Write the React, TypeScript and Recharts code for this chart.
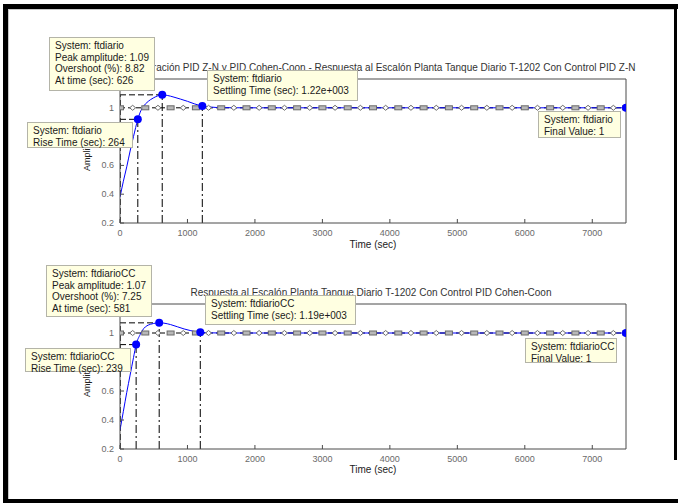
import React from 'react';
import { ComposedChart, Line, Scatter, XAxis, YAxis } from 'recharts';

const xTicks = [0, 1000, 2000, 3000, 4000, 5000, 6000, 7000];
const yTicks = [0.2, 0.4, 0.6, 0.8, 1, 1.2];
// tick labels that the reference shows (0.8 and 1.2 sit under the data tips)
const yTickLabels = ['0.2', '0.4', '0.6', '', '1', ''];

const znTime = [0, 50, 100, 150, 200, 264, 300, 350, 400, 450, 500, 560, 626, 700, 800, 900, 1000, 1100, 1220, 1350, 1500, 1800, 2500, 3500, 4500, 5500, 6500, 7500];
const znAmp = [0.38, 0.49, 0.59, 0.7, 0.8, 0.92, 0.97, 1.012, 1.037, 1.056, 1.07, 1.083, 1.09, 1.086, 1.074, 1.06, 1.045, 1.028, 1.012, 1.005, 1.001, 1, 1, 1, 1, 1, 1, 1];

const ccTime = [0, 50, 100, 150, 200, 239, 300, 350, 400, 450, 500, 581, 650, 750, 850, 950, 1050, 1190, 1350, 1500, 1800, 2500, 3500, 4500, 5500, 6500, 7500];
const ccAmp = [0.33, 0.46, 0.59, 0.71, 0.83, 0.92, 0.99, 1.03, 1.05, 1.06, 1.066, 1.07, 1.068, 1.058, 1.043, 1.028, 1.016, 1.005, 1.001, 1, 1, 1, 1, 1, 1, 1, 1];

// [riseTime, riseAmp, peakTime, peakAmp, overshoot, settlingTime, settlingAmp, finalValue]
const znChars = [264, 0.92, 626, 1.09, 8.82, 1220, 1.012, 1];
const ccChars = [239, 0.92, 581, 1.07, 7.25, 1190, 1.005, 1];

const markerTimes = [0, 187.5, 375, 562.5, 750, 937.5, 1125, 1312.5, 1500, 1687.5, 1875, 2062.5, 2250, 2437.5, 2625, 2812.5, 3000, 3187.5, 3375, 3562.5, 3750, 3937.5, 4125, 4312.5, 4500, 4687.5, 4875, 5062.5, 5250, 5437.5, 5625, 5812.5, 6000, 6187.5, 6375, 6562.5, 6750, 6937.5, 7125, 7312.5, 7500];

const xMax = 7500;
const yMin = 0.2;
const yMax = 1.2;

const FONT = '"Liberation Sans", Arial, Helvetica, sans-serif';

const fmtExp = (n: number) => {
  const s = n.toExponential(2);
  const [m, e] = s.split('e');
  const sign = e[0] === '-' ? '-' : '+';
  const d = e.replace(/[+-]/, '').padStart(3, '0');
  return `${m}e${sign}${d}`;
};

const XTick = (props: any) => {
  const { x, y, payload } = props;
  return (
    <text x={x} y={y + 4 + 13} textAnchor="middle" fontSize={9} fill="#6a6a6a" fontFamily={FONT}>
      {payload.value}
    </text>
  );
};

const YTick = (props: any) => {
  const { x, y, payload } = props;
  const idx = yTicks.indexOf(payload.value);
  const label = idx >= 0 ? yTickLabels[idx] : String(payload.value);
  if (!label) return <g />;
  return (
    <text x={x - 4 - 6} y={y + 3} textAnchor="end" fontSize={9} fill="#6a6a6a" fontFamily={FONT}>
      {label}
    </text>
  );
};

const MarkerShape = (props: any) => {
  const { cx, cy, payload } = props;
  if (payload.k === 0) {
    return <rect x={cx - 3.5} y={cy - 2} width={7} height={4} fill="#b8b8b8" stroke="#6a6a6a" strokeWidth={1} />;
  }
  return (
    <path d={`M${cx - 3},${cy} L${cx},${cy - 2.5} L${cx + 3},${cy} L${cx},${cy + 2.5} Z`} fill="#ffffff" stroke="#6a6a6a" strokeWidth={1} />
  );
};

const DotShape = (props: any) => <circle cx={props.cx} cy={props.cy} r={4} fill="#0000ff" />;

type Tip = { left: number; top: number; width: number; height: number; lines: string[] };

const TipBox = ({ t }: { t: Tip }) => (
  <div
    style={{
      position: 'absolute',
      left: t.left,
      top: t.top,
      width: t.width,
      height: t.height,
      boxSizing: 'border-box',
      background: '#ffffe1',
      border: '1px solid #b4b4a8',
      fontFamily: FONT,
      fontSize: 10,
      lineHeight: '11.5px',
      color: '#1a1a1a',
      padding: '2px 0 0 5px',
      whiteSpace: 'nowrap',
    }}
  >
    {t.lines.map((l, i) => (
      <div key={i}>{l}</div>
    ))}
  </div>
);

const common = {
  xAxisId: 'b',
  yAxisId: 'l',
  dataKey: 'y',
  dot: false,
  isAnimationActive: false,
  legendType: 'none' as const,
};

function Panel(props: {
  top: number;
  height: number;
  mTop: number;
  mBottom: number;
  time: number[];
  amp: number[];
  c: number[];
}) {
  const { top, height, mTop, mBottom, time, amp, c } = props;
  const [rT, rA, pT, pA, , sT, sA, fV] = c;
  const curve = time.map((t, i) => ({ x: t, y: amp[i] }));
  const finalLine = [{ x: 0, y: fV }, { x: xMax, y: fV }];
  const markers = markerTimes.map((t, i) => ({ x: t, y: fV, k: i % 2 }));
  const dots = [
    { x: rT, y: rA },
    { x: pT, y: pA },
    { x: sT, y: sA },
    { x: xMax, y: fV },
  ];
  const vRise = [{ x: rT, y: yMin }, { x: rT, y: rA }];
  const vPeak = [{ x: pT, y: yMin }, { x: pT, y: pA }];
  const vSettle = [{ x: sT, y: yMin }, { x: sT, y: sA }];
  const vZero = [{ x: 0, y: yMin }, { x: 0, y: pA }];
  const hPeak = [{ x: 0, y: pA }, { x: pT, y: pA }];
  const hRise = [{ x: 0, y: rA }, { x: rT, y: rA }];

  return (
    <div style={{ position: 'absolute', left: 0, top }}>
      <ComposedChart width={678} height={height} margin={{ top: mTop, right: 51, bottom: mBottom, left: 119 }}>
        <XAxis
          xAxisId="b"
          dataKey="x"
          type="number"
          domain={[0, xMax]}
          ticks={xTicks}
          allowDataOverflow
          height={1}
          tickSize={-4}
          tickMargin={0}
          tick={<XTick />}
          stroke="#4a4a4a"
          interval={0}
        />
        <XAxis
          xAxisId="t"
          orientation="top"
          type="number"
          domain={[0, xMax]}
          ticks={xTicks}
          allowDataOverflow
          height={1}
          tickSize={-4}
          tick={false}
          stroke="#4a4a4a"
          interval={0}
        />
        <YAxis
          yAxisId="l"
          type="number"
          domain={[yMin, yMax]}
          ticks={yTicks}
          allowDataOverflow
          width={1}
          tickSize={-4}
          tickMargin={0}
          tick={<YTick />}
          stroke="#4a4a4a"
          interval={0}
        />
        <YAxis
          yAxisId="r"
          orientation="right"
          type="number"
          domain={[yMin, yMax]}
          ticks={yTicks}
          allowDataOverflow
          width={1}
          tickSize={-4}
          tick={false}
          stroke="#4a4a4a"
          interval={0}
        />
        <Line {...common} data={vZero} stroke="#000" strokeWidth={1.5} strokeDasharray="6 3" />
        <Line {...common} data={hPeak} stroke="#000" strokeWidth={1} strokeDasharray="6 3" />
        <Line {...common} data={hRise} stroke="#000" strokeWidth={1} strokeDasharray="6 3" />
        <Line {...common} data={vRise} stroke="#000" strokeWidth={1} strokeDasharray="8 3 2 3" />
        <Line {...common} data={vPeak} stroke="#000" strokeWidth={1} strokeDasharray="8 3 2 3" />
        <Line {...common} data={vSettle} stroke="#000" strokeWidth={1} strokeDasharray="8 3 2 3" />
        <Line {...common} data={finalLine} stroke="#000" strokeWidth={1} strokeDasharray="5 3" />
        <Line {...common} data={curve} type="monotone" stroke="#0000ff" strokeWidth={1} />
        <Scatter xAxisId="b" yAxisId="l" data={markers} dataKey="y" shape={<MarkerShape />} isAnimationActive={false} />
        <Scatter xAxisId="b" yAxisId="l" data={dots} dataKey="y" shape={<DotShape />} isAnimationActive={false} />
      </ComposedChart>
    </div>
  );
}

const textStyle = (extra: React.CSSProperties): React.CSSProperties => ({
  position: 'absolute',
  fontFamily: FONT,
  whiteSpace: 'nowrap',
  lineHeight: '12px',
  ...extra,
});

export default function App() {
  const zn = znChars;
  const cc = ccChars;
  const topTips: Tip[] = [
    { left: 49, top: 37, width: 106, height: 54, lines: ['System: ftdiario', `Peak amplitude: ${zn[3]}`, `Overshoot (%): ${zn[4]}`, `At time (sec): ${zn[2]}`] },
    { left: 207, top: 70, width: 151, height: 31, lines: ['System: ftdiario', `Settling Time (sec): ${fmtExp(zn[5])}`] },
    { left: 27, top: 122, width: 106, height: 26, lines: ['System: ftdiario', `Rise Time (sec): ${zn[0]}`] },
    { left: 538, top: 111, width: 83, height: 27, lines: ['System: ftdiario', `Final Value: ${zn[7]}`] },
  ];
  const botTips: Tip[] = [
    { left: 46, top: 265, width: 106, height: 52, lines: ['System: ftdiarioCC', `Peak amplitude: ${cc[3]}`, `Overshoot (%): ${cc[4]}`, `At time (sec): ${cc[2]}`] },
    { left: 205, top: 295, width: 151, height: 30, lines: ['System: ftdiarioCC', `Settling Time (sec): ${fmtExp(cc[5])}`] },
    { left: 25, top: 348, width: 106, height: 24, lines: ['System: ftdiarioCC', `Rise Time (sec): ${cc[0]}`] },
    { left: 525, top: 338, width: 92, height: 25, lines: ['System: ftdiarioCC', `Final Value: ${cc[7]}`] },
  ];
  return (
    <div style={{ position: 'absolute', left: 0, top: 0, width: 678, height: 503, background: '#ffffff', overflow: 'hidden' }}>
      {/* window frame */}
      <div style={{ position: 'absolute', left: 3, top: 4, width: 675, height: 5, background: '#000' }} />
      <div style={{ position: 'absolute', left: 3, top: 4, width: 5, height: 499, background: '#000' }} />
      <div style={{ position: 'absolute', left: 3, top: 499, width: 675, height: 4, background: '#000' }} />
      <div style={{ position: 'absolute', left: 674, top: 4, width: 3, height: 456, background: '#000' }} />
      <div style={{ position: 'absolute', left: 8, top: 9, width: 666, height: 1, background: '#c8c8c8' }} />
      <div style={{ position: 'absolute', left: 8, top: 9, width: 1, height: 490, background: '#c8c8c8' }} />

      <Panel top={0} height={240} mTop={78} mBottom={16} time={znTime} amp={znAmp} c={zn} />
      <Panel top={250} height={240} mTop={53} mBottom={40} time={ccTime} amp={ccAmp} c={cc} />

      <div style={textStyle({ left: 0, width: 756, top: 62, textAlign: 'center', fontSize: 10, color: '#333' })}>
        Comparación PID Z-N y PID Cohen-Coon - Respuesta al Escalón Planta Tanque Diario T-1202 Con Control PID Z-N
      </div>
      <div style={textStyle({ left: 0, width: 742, top: 287, textAlign: 'center', fontSize: 10, color: '#333' })}>
        Respuesta al Escalón Planta Tanque Diario T-1202 Con Control PID Cohen-Coon
      </div>
      <div style={textStyle({ left: 0, width: 746, top: 239, textAlign: 'center', fontSize: 10, color: '#222' })}>
        Time (sec)
      </div>
      <div style={textStyle({ left: 0, width: 746, top: 464, textAlign: 'center', fontSize: 10, color: '#222' })}>
        Time (sec)
      </div>
      <div style={textStyle({ left: 87 - 30, width: 60, top: 151 - 6, textAlign: 'center', fontSize: 9, color: '#222', transform: 'rotate(-90deg)' })}>
        Amplitude
      </div>
      <div style={textStyle({ left: 87 - 30, width: 60, top: 377 - 6, textAlign: 'center', fontSize: 9, color: '#222', transform: 'rotate(-90deg)' })}>
        Amplitude
      </div>

      {topTips.map((t, i) => (
        <TipBox key={`t${i}`} t={t} />
      ))}
      {botTips.map((t, i) => (
        <TipBox key={`b${i}`} t={t} />
      ))}
    </div>
  );
}
